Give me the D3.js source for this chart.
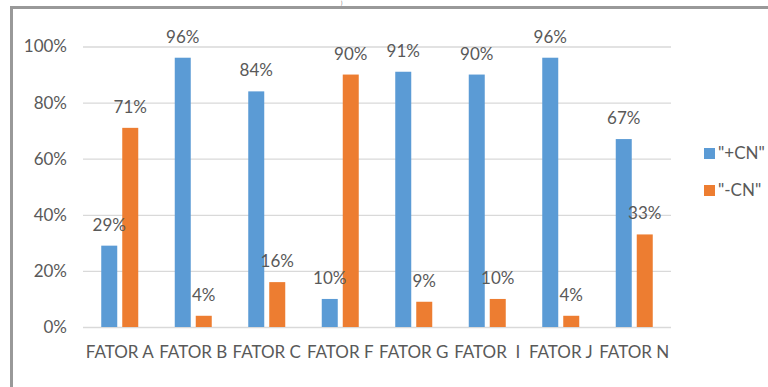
<!DOCTYPE html>
<html>
<head>
<meta charset="utf-8">
<script src="https://cdn.jsdelivr.net/npm/d3@7"></script>
<style>
  html, body { margin: 0; padding: 0; background: #fff; }
  svg { display: block; font-family: Lato, "Open Sans", sans-serif; }
</style>
</head>
<body>
<svg id="chart" width="768" height="387"></svg>
<script>
// Factor categories and the share of each response group
const categories = ["FATOR A", "FATOR B", "FATOR C", "FATOR F", "FATOR G", "FATOR  I", "FATOR J", "FATOR N"];
const seriesNames = ["\"+CN\"", "\"-CN\""];
const plusCN  = [0.29, 0.96, 0.84, 0.10, 0.91, 0.90, 0.96, 0.67];
const minusCN = [0.71, 0.04, 0.16, 0.90, 0.09, 0.10, 0.04, 0.33];
const yTicks = [0, 0.2, 0.4, 0.6, 0.8, 1.0];
const colors = ["#5B9BD5", "#ED7D31"];

const seriesValues = [plusCN, minusCN];
const rows = categories.map((c, i) => ({
  category: c,
  values: seriesNames.map((s, k) => ({ series: s, value: seriesValues[k][i], color: colors[k] }))
}));

const svg = d3.select("#chart");
const textColor = "#595959";

// Frame around the chart
svg.append("path")
  .attr("d", "M11.5,387 V7.5 H768")
  .attr("fill", "none")
  .attr("stroke", "#999999")
  .attr("stroke-width", 3);

svg.append("text")
  .attr("x", 341).attr("y", 5)
  .attr("font-size", 5)
  .attr("fill", textColor)
  .text(")");

const plotLeft = 83, plotRight = 671, plotTop = 46.5, plotBottom = 327;

const x0 = d3.scaleBand()
  .domain(categories)
  .range([plotLeft, plotRight])
  .paddingInner(36.5 / 73.5)
  .paddingOuter(36.5 / 73.5 / 2);

const x1 = d3.scaleBand()
  .domain(seriesNames)
  .range([0, x0.bandwidth()])
  .paddingInner(2 - 37 / 21);

const y = d3.scaleLinear().domain([0, 1]).range([plotBottom, plotTop]);

// Y axis with gridlines
const yAxis = svg.append("g")
  .attr("transform", `translate(${plotLeft},0)`)
  .call(d3.axisLeft(y)
    .tickValues(yTicks)
    .tickFormat(d3.format(".0%"))
    .tickSizeInner(-(plotRight - plotLeft))
    .tickSizeOuter(0)
    .tickPadding(16));
yAxis.select(".domain").remove();
yAxis.selectAll(".tick line").attr("stroke", "#D9D9D9").attr("stroke-width", 1.3);
yAxis.selectAll(".tick text")
  .attr("fill", textColor)
  .attr("font-size", 17)
  .attr("font-family", "Lato, sans-serif");

// Category axis
const xAxis = svg.append("g")
  .attr("transform", `translate(0,${plotBottom})`)
  .call(d3.axisBottom(x0).tickSize(0).tickPadding(0));
xAxis.select(".domain").remove();
xAxis.selectAll(".tick text")
  .attr("fill", textColor)
  .attr("font-size", 17)
  .attr("font-family", "Lato, sans-serif")
  .attr("dy", null)
  .attr("y", 31)
  .style("white-space", "pre");

// Bars
const groups = svg.append("g").selectAll("g")
  .data(rows)
  .join("g")
  .attr("transform", d => `translate(${x0(d.category)},0)`);

groups.selectAll("rect")
  .data(d => d.values)
  .join("rect")
  .attr("x", d => x1(d.series))
  .attr("y", d => y(d.value))
  .attr("width", x1.bandwidth())
  .attr("height", d => y(0) - y(d.value))
  .attr("fill", d => d.color);

// Value labels
groups.selectAll("text")
  .data(d => d.values)
  .join("text")
  .attr("x", d => x1(d.series) + x1.bandwidth() / 2)
  .attr("y", d => y(d.value) - 15)
  .attr("text-anchor", "middle")
  .attr("font-size", 17)
  .attr("fill", textColor)
  .text(d => d3.format(".0%")(d.value));

// Legend
const legend = svg.append("g").selectAll("g")
  .data(seriesNames)
  .join("g")
  .attr("transform", (d, i) => `translate(704,${148 + i * 37})`);
legend.append("rect")
  .attr("width", 11).attr("height", 11)
  .attr("fill", (d, i) => colors[i]);
legend.append("text")
  .attr("x", 14).attr("y", 11)
  .attr("font-size", 17)
  .attr("fill", textColor)
  .text(d => d);
</script>
</body>
</html>
